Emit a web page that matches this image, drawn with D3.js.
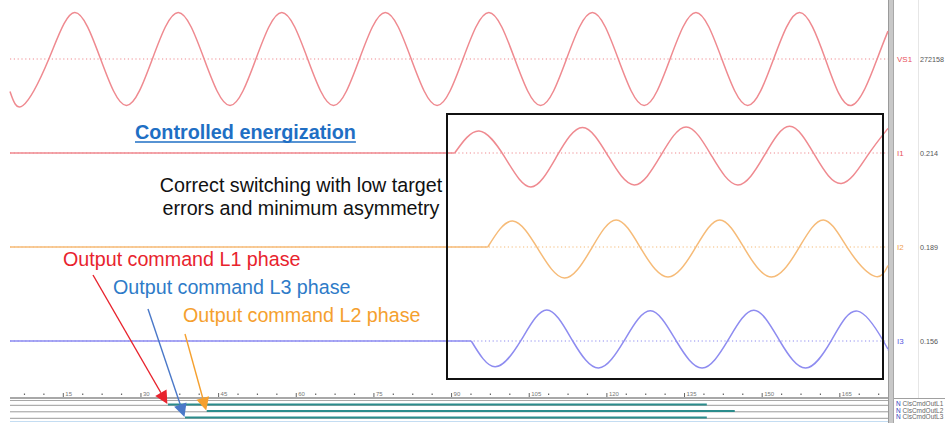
<!DOCTYPE html>
<html><head><meta charset="utf-8">
<script src="https://cdn.jsdelivr.net/npm/d3@7"></script>
<style>html,body{margin:0;padding:0;background:#fff;overflow:hidden}svg{display:block}</style>
</head><body><svg id="chart" width="945" height="423"></svg>
<script>
// ---------------- DATA ----------------
const timeDomain = [4.8, 174.4];              // ms shown on the time axis
const majorTicks = [15, 30, 45, 60, 75, 90, 105, 120, 135, 150, 165];
const minorStep = 3.75;

const channelNames  = ["VS1", "I1", "I2", "I3"];
const channelValues = ["272158", "0.214", "0.189", "0.156"];

// switching instants (ms); before it the channel is flat at 0
const switchOn = [null, 90.7, 97.1, 93.9];

// key points (extrema / zero crossings) per channel, value in per-unit of channel
const vs1T = [4.8, 7.3, 12.3, 17.3, 22.3, 27.3, 32.3, 37.3, 42.3, 47.3, 52.3, 57.3, 62.3, 67.3, 72.3, 77.3, 82.3, 87.3, 92.3, 97.3, 102.3, 107.3, 112.3, 117.3, 122.3, 127.3, 132.3, 137.3, 142.3, 147.3, 152.3, 157.3, 162.3, 167.3, 172.3, 174.4];
const vs1V = [-0.70, -1, 0, 1, 0, -1, 0, 1, 0, -1, 0, 1, 0, -1, 0, 1, 0, -1, 0, 1, 0, -1, 0, 1, 0, -1, 0, 1, 0, -1, 0, 1, 0, -1, 0, 0.6];

const i1T = [4.8, 90.7, 95.4, 100.4, 105.4, 110.4, 115.4, 120.4, 125.4, 130.4, 135.4, 140.4, 145.4, 150.4, 155.4, 160.4, 165.4, 170.4, 174.4];
const i1V = [0, 0, 0.76, -0.15, -1.17, -0.12, 0.88, -0.12, -1.10, -0.12, 0.90, -0.12, -1.10, -0.12, 0.92, -0.12, -1.05, -0.10, 0.85];

const i2T = [4.8, 97.1, 101.9, 106.9, 111.9, 116.9, 121.9, 126.9, 131.9, 136.9, 141.9, 146.9, 151.9, 156.9, 161.9, 166.9, 171.9, 174.4];
const i2V = [0, 0, 0.91, -0.10, -1.09, -0.12, 0.95, -0.12, -1.05, -0.12, 0.95, -0.12, -1.05, -0.12, 0.95, -0.12, -1.03, -0.65];

const i3T = [4.8, 93.9, 98.5, 103.5, 108.5, 113.5, 118.5, 123.5, 128.5, 133.5, 138.5, 143.5, 148.5, 153.5, 158.5, 163.5, 168.5, 173.5, 174.4];
const i3V = [0, 0, -0.89, 0.02, 1.07, 0, -0.93, 0.03, 1.04, 0, -0.93, 0.03, 1.06, 0, -0.93, 0.03, 1.03, 0, -0.30];

// digital output commands
const digitalNames = ["ClsCmdOutL1", "ClsCmdOutL2", "ClsCmdOutL3"];
const digitalOn  = [35.3, 42.8, 38.6];
const digitalOff = [139.4, 144.8, 139.4];

// annotations
const titleText = "Controlled energization";
const noteLines = ["Correct switching with low target", "errors and minimum asymmetry"];
const cmdLabels = ["Output command L1 phase", "Output command L3 phase", "Output command L2 phase"];
const cmdRows   = [0, 2, 1];   // which digital row each label points to

// ---------------- LAYOUT ----------------
const svg = d3.select("#chart");
const FONT = "'Liberation Sans', Arial, sans-serif";
const plotL = 10, plotR = 888;
const x = d3.scaleLinear().domain(timeDomain).range([plotL, plotR]);

const lanes = [
  {center: 59,  amp: 46.5, color: "#ef8a90", label: "#e8505c"},
  {center: 153, amp: 29,   color: "#ef8a90", label: "#e8505c"},
  {center: 247, amp: 28.5, color: "#f6bb78", label: "#f0a050"},
  {center: 341, amp: 29,   color: "#8e8cf0", label: "#5a58e0"}
];
const series = [[vs1T, vs1V], [i1T, i1V], [i2T, i2V], [i3T, i3V]];

// right panel
svg.append("line").attr("x1", 918.5).attr("x2", 918.5).attr("y1", 0).attr("y2", 398)
  .attr("stroke", "#e6e6e6").attr("stroke-width", 1);
svg.append("rect").attr("x", 888).attr("y", 0).attr("width", 6).attr("height", 423).attr("fill", "#c8c8c8");
svg.append("line").attr("x1", 888.5).attr("x2", 888.5).attr("y1", 0).attr("y2", 423).attr("stroke", "#9a9a9a");
svg.append("line").attr("x1", 893.5).attr("x2", 893.5).attr("y1", 0).attr("y2", 423).attr("stroke", "#a8a8a8");
svg.append("line").attr("x1", 894).attr("x2", 945).attr("y1", 398.5).attr("y2", 398.5).attr("stroke", "#a0a0a0");

// waveforms
lanes.forEach((ln, i) => {
  const y = d3.scaleLinear().domain([-1, 1]).range([ln.center + ln.amp, ln.center - ln.amp]);
  svg.append("line").attr("x1", plotL).attr("x2", plotR).attr("y1", y(0)).attr("y2", y(0))
    .attr("stroke", ln.color).attr("stroke-width", 1.2).attr("stroke-dasharray", "1.2,2.6");
  const [T, V] = series[i];
  const pts = T.map((t, k) => [t, V[k]]);
  const on = switchOn[i];
  const lineLin = d3.line().x(d => x(d[0])).y(d => y(d[1])).curve(d3.curveLinear);
  const lineNat = d3.line().x(d => x(d[0])).y(d => y(d[1])).curve(d3.curveNatural);
  if (on === null) {
    svg.append("path").attr("d", lineNat(pts)).attr("fill", "none")
      .attr("stroke", ln.color).attr("stroke-width", 1.5);
  } else {
    const pre = pts.filter(d => d[0] <= on);
    const post = pts.filter(d => d[0] >= on);
    svg.append("path").attr("d", lineLin(pre)).attr("fill", "none")
      .attr("stroke", ln.color).attr("stroke-width", 1.7);
    svg.append("path").attr("d", lineNat(post)).attr("fill", "none")
      .attr("stroke", ln.color).attr("stroke-width", 1.5);
  }
  svg.append("text").attr("x", 897).attr("y", ln.center + 3).text(channelNames[i])
    .attr("font-family", FONT).attr("font-size", 8).attr("fill", ln.label);
  svg.append("text").attr("x", 920).attr("y", ln.center + 3).text(channelValues[i])
    .attr("font-family", FONT).attr("font-size", 7.2).attr("fill", "#555");
});

// highlight box
svg.append("rect").attr("x", 447).attr("y", 114).attr("width", 436).attr("height", 265)
  .attr("fill", "none").attr("stroke", "#111").attr("stroke-width", 2);

// ---------------- time axis & digital rows ----------------
const axisY = 397;
svg.append("line").attr("x1", plotL).attr("x2", plotR).attr("y1", axisY + 1).attr("y2", axisY + 1)
  .attr("stroke", "#a8a8a8").attr("stroke-width", 2);
svg.append("line").attr("x1", plotL).attr("x2", plotR).attr("y1", 400.5).attr("y2", 400.5)
  .attr("stroke", "#a8a8a8").attr("stroke-width", 1);

const minorTicks = d3.range(timeDomain[0] - (timeDomain[0] % minorStep) + minorStep, timeDomain[1], minorStep)
  .filter(t => !majorTicks.includes(t));
const minorAxis = d3.axisBottom(x).tickValues(minorTicks).tickSize(-1.5).tickFormat("");
const gMin = svg.append("g").attr("transform", `translate(0,${axisY - 2})`).call(minorAxis);
gMin.select(".domain").remove();
gMin.selectAll(".tick line").attr("stroke", "#666").attr("stroke-width", 1.2);

const majorAxis = d3.axisBottom(x).tickValues(majorTicks).tickSize(-4).tickFormat(d3.format("d"));
const gMaj = svg.append("g").attr("transform", `translate(0,${axisY})`).call(majorAxis);
gMaj.select(".domain").remove();
gMaj.selectAll(".tick line").attr("stroke", "#666");
gMaj.selectAll(".tick text").attr("x", 2).attr("y", -1).attr("dy", 0)
  .attr("text-anchor", "start").attr("font-family", FONT).attr("font-size", 6).attr("fill", "#777");

const rowY = [404.5, 411, 417.5];
digitalNames.forEach((name, i) => {
  svg.append("line").attr("x1", plotL).attr("x2", plotR).attr("y1", rowY[i] + 0.8).attr("y2", rowY[i] + 0.8)
    .attr("stroke", "#9a9a9a").attr("stroke-width", 1);
  svg.append("line").attr("x1", x(digitalOn[i])).attr("x2", x(digitalOff[i]))
    .attr("y1", rowY[i]).attr("y2", rowY[i]).attr("stroke", "#2b8c8c").attr("stroke-width", 2.2);
  const t = svg.append("text").attr("x", 896).attr("y", rowY[i] + 1.5)
    .attr("font-family", FONT).attr("font-size", 6.5);
  t.append("tspan").attr("fill", "#3040c0").text("N ");
  t.append("tspan").attr("fill", "#666").text(name);
});
svg.append("line").attr("x1", plotL).attr("x2", plotR).attr("y1", 421.5).attr("y2", 421.5)
  .attr("stroke", "#c4ddf2").attr("stroke-width", 1.2);

// ---------------- annotations ----------------
const title = svg.append("text").attr("x", 135).attr("y", 139).text(titleText)
  .attr("font-family", FONT).attr("font-size", 19.8).attr("font-weight", "bold")
  .attr("fill", "#1f6fc4");
const tw = title.node().getComputedTextLength();
svg.append("line").attr("x1", 135).attr("x2", 135 + tw).attr("y1", 142).attr("y2", 142)
  .attr("stroke", "#1f6fc4").attr("stroke-width", 1.5);

noteLines.forEach((s, i) => {
  svg.append("text").attr("x", 301).attr("y", 192 + i * 23).text(s)
    .attr("text-anchor", "middle").attr("font-family", FONT).attr("font-size", 19.7)
    .attr("fill", "#111");
});

const cmdColors = ["#e8232d", "#2e7bc8", "#f5a02e"];
const arrowColors = ["#e8232d", "#4a78c8", "#f5a02e"];
const labelPos = [[63, 266], [113, 294], [183, 322]];
const arrowStart = [[93, 275], [148, 309], [185, 334]];
cmdLabels.forEach((s, i) => {
  svg.append("text").attr("x", labelPos[i][0]).attr("y", labelPos[i][1]).text(s)
    .attr("font-family", FONT).attr("font-size", 19.7).attr("fill", cmdColors[i]);
  const r = cmdRows[i];
  const tip = [x(digitalOn[r]) - 0.5, rowY[r] - 0.5];
  const s0 = arrowStart[i];
  const dx = tip[0] - s0[0], dy = tip[1] - s0[1], L = Math.hypot(dx, dy);
  const ux = dx / L, uy = dy / L, hl = 13, hw = 6.5;
  const bx = tip[0] - ux * hl, by = tip[1] - uy * hl;
  svg.append("line").attr("x1", s0[0]).attr("y1", s0[1]).attr("x2", bx).attr("y2", by)
    .attr("stroke", arrowColors[i]).attr("stroke-width", 1.4);
  svg.append("path")
    .attr("d", `M${tip[0]},${tip[1]}L${bx - uy * hw},${by + ux * hw}L${bx + uy * hw},${by - ux * hw}Z`)
    .attr("fill", arrowColors[i]);
});
</script></body></html>
